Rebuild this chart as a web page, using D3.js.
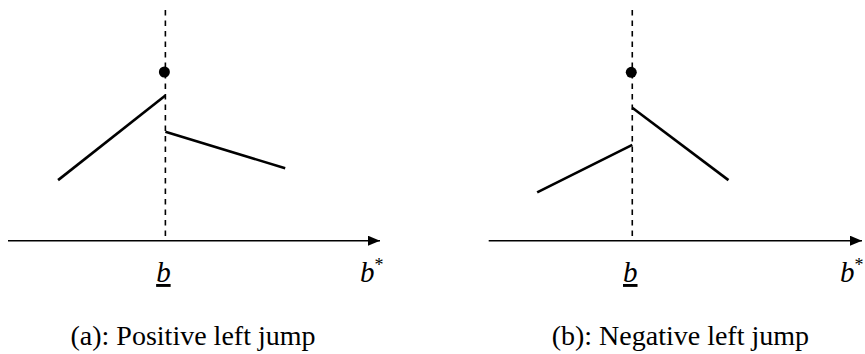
<!DOCTYPE html>
<html>
<head>
<meta charset="utf-8">
<script src="https://cdn.jsdelivr.net/npm/d3@7"></script>
<style>
  html, body { margin: 0; padding: 0; background: #fff; }
  svg { display: block; }
  text { font-family: "Liberation Serif", "Times New Roman", serif; fill: #000; }
</style>
</head>
<body>
<div id="chart"></div>
<script>
// abstract units: threshold b at x = 0, horizontal axis at y = 0
const panelIds = ['a', 'b'];
const captions = ['(a): Positive left jump', '(b): Negative left jump'];
const xDomains = [[-4.4, 6], [-4, 6.4]];
const yDomain = [0, 6.4];
const thresholdX = [0, 0];
const pointY = [4.68, 4.67];
// left branch [x0,y0,x1,y1], right branch
const leftSegs = [[-3.0, 1.68, 0, 4.03], [-2.65, 1.34, 0, 2.66]];
const rightSegs = [[0, 3.02, 3.35, 2.01], [0, 3.69, 2.68, 1.68]];
const bStarX = [5.44, 5.79];

let w = 865,
    h = 354;

let svg = d3.select('#chart').append('svg')
    .attr('width', w)
    .attr('height', h);

svg.append('defs').append('marker')
    .attr('id', 'arrow')
    .attr('viewBox', '0 0 12 10')
    .attr('refX', 12)
    .attr('refY', 5)
    .attr('markerWidth', 12)
    .attr('markerHeight', 10)
    .attr('markerUnits', 'userSpaceOnUse')
    .attr('orient', 'auto')
    .append('path')
    .attr('d', 'M0,0 L12,5 L0,10 Z')
    .attr('fill', '#000');

let xRanges = [[8, 380], [488.7, 862]];

panelIds.forEach(function(id, i) {
    let x = d3.scaleLinear().domain(xDomains[i]).range(xRanges[i]);
    let y = d3.scaleLinear().domain(yDomain).range([240.7, 10]);
    let g = svg.append('g').attr('class', 'panel-' + id);

    // dashed threshold line
    g.append('line')
        .attr('x1', x(thresholdX[i])).attr('x2', x(thresholdX[i]))
        .attr('y1', y(yDomain[1])).attr('y2', y(0))
        .attr('stroke', '#000')
        .attr('stroke-width', 1.6)
        .attr('stroke-dasharray', '5.5,5');

    // horizontal axis with arrow
    g.append('line')
        .attr('x1', x(xDomains[i][0])).attr('x2', x(xDomains[i][1]))
        .attr('y1', y(0)).attr('y2', y(0))
        .attr('stroke', '#000')
        .attr('stroke-width', 1.5)
        .attr('marker-end', 'url(#arrow)');

    // branches
    [leftSegs[i], rightSegs[i]].forEach(function(s) {
        g.append('line')
            .attr('x1', x(s[0])).attr('y1', y(s[1]))
            .attr('x2', x(s[2])).attr('y2', y(s[3]))
            .attr('stroke', '#000')
            .attr('stroke-width', 2.6);
    });

    // value at threshold
    g.append('circle')
        .attr('cx', x(thresholdX[i]) - 1)
        .attr('cy', y(pointY[i]))
        .attr('r', 5.5)
        .attr('fill', '#000');

    // labels
    g.append('text')
        .attr('x', x(thresholdX[i]) - 2)
        .attr('y', 282)
        .attr('text-anchor', 'middle')
        .style('font-size', '29px')
        .style('font-style', 'italic')
        .style('text-decoration', 'underline')
        .text('b');

    let bs = g.append('text')
        .attr('x', x(bStarX[i]))
        .attr('y', 282)
        .style('font-size', '29px');
    bs.append('tspan').style('font-style', 'italic').text('b');
    bs.append('tspan').attr('dy', -11).style('font-size', '18px').text('*');

    g.append('text')
        .attr('x', (xRanges[i][0] + xRanges[i][1]) / 2 + (i === 0 ? -1 : 5))
        .attr('y', 345)
        .attr('text-anchor', 'middle')
        .style('font-size', '28px')
        .text(captions[i]);
});
</script>
</body>
</html>
